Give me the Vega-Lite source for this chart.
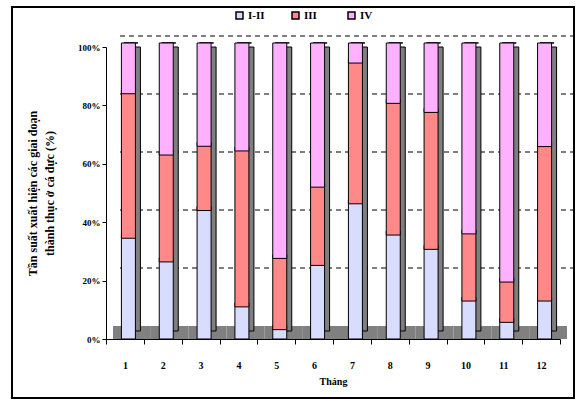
{
  "$schema": "https://vega.github.io/schema/vega-lite/v6.json",
  "width": 562,
  "height": 391,
  "autosize": "none",
  "padding": {"left": 12, "top": 7, "right": 3, "bottom": 4},
  "background": "white",
  "config": {
    "view": {"stroke": "black", "strokeWidth": 2},
    "font": "Liberation Serif",
    "axis": {"labelFont": "Liberation Serif", "titleFont": "Liberation Serif", "labelFontWeight": "bold", "titleFontWeight": "bold", "labelColor": "black", "titleColor": "black", "domainColor": "black", "tickColor": "black", "grid": false}
  },
  "datasets": {
    "main": [
      {"month": 1, "stage": "I-II", "value": 34.5}, {"month": 1, "stage": "III", "value": 49.5}, {"month": 1, "stage": "IV", "value": 16.0},
      {"month": 2, "stage": "I-II", "value": 26.4}, {"month": 2, "stage": "III", "value": 36.6}, {"month": 2, "stage": "IV", "value": 37.0},
      {"month": 3, "stage": "I-II", "value": 44.0}, {"month": 3, "stage": "III", "value": 22.0}, {"month": 3, "stage": "IV", "value": 34.0},
      {"month": 4, "stage": "I-II", "value": 11.0}, {"month": 4, "stage": "III", "value": 53.4}, {"month": 4, "stage": "IV", "value": 35.6},
      {"month": 5, "stage": "I-II", "value": 3.2}, {"month": 5, "stage": "III", "value": 24.4}, {"month": 5, "stage": "IV", "value": 72.4},
      {"month": 6, "stage": "I-II", "value": 25.2}, {"month": 6, "stage": "III", "value": 26.8}, {"month": 6, "stage": "IV", "value": 48.0},
      {"month": 7, "stage": "I-II", "value": 46.3}, {"month": 7, "stage": "III", "value": 48.2}, {"month": 7, "stage": "IV", "value": 5.5},
      {"month": 8, "stage": "I-II", "value": 35.6}, {"month": 8, "stage": "III", "value": 45.1}, {"month": 8, "stage": "IV", "value": 19.3},
      {"month": 9, "stage": "I-II", "value": 30.7}, {"month": 9, "stage": "III", "value": 46.9}, {"month": 9, "stage": "IV", "value": 22.4},
      {"month": 10, "stage": "I-II", "value": 13.0}, {"month": 10, "stage": "III", "value": 23.0}, {"month": 10, "stage": "IV", "value": 64.0},
      {"month": 11, "stage": "I-II", "value": 5.7}, {"month": 11, "stage": "III", "value": 13.8}, {"month": 11, "stage": "IV", "value": 80.5},
      {"month": 12, "stage": "I-II", "value": 13.0}, {"month": 12, "stage": "III", "value": 52.9}, {"month": 12, "stage": "IV", "value": 34.1}
    ],
    "grid": [{"g": 20}, {"g": 40}, {"g": 60}, {"g": 80}, {"g": 100}]
  },
  "layer": [
    {
      "data": {"name": "grid"},
      "mark": {"type": "rule", "color": "black", "strokeDash": [5, 4], "strokeWidth": 1.2},
      "encoding": {
        "y": {"field": "g", "type": "quantitative", "scale": {"domain": [0, 100], "range": [319, 29]}, "axis": null},
        "x": {"datum": 0, "type": "quantitative", "scale": {"domain": [0, 1], "range": [108, 562]}, "axis": null},
        "x2": {"datum": 1}
      }
    },
    {
      "data": {"name": "main"},
      "transform": [{"stack": "value", "groupby": ["month"], "sort": [{"field": "stage", "order": "ascending"}], "as": ["y0", "y1"]}],
      "layer": [
        {
          "transform": [{"filter": "datum.stage === 'I-II'"}],
          "mark": {"type": "bar", "fill": "#808080", "xOffset": 7},
          "encoding": {
            "x": {"field": "month", "type": "ordinal", "scale": {"range": [94, 548], "paddingInner": 0, "paddingOuter": 0},
              "axis": {"offset": -59, "tickBand": "extent", "tickSize": 5, "labelAngle": 0, "labelFontSize": 10, "labelPadding": 16, "title": "Tháng", "titleFontSize": 10, "titlePadding": 6}},
            "y": {"datum": 0, "type": "quantitative", "scale": {"domain": [0, 100], "range": [332, 40]},
              "axis": {"offset": -94, "values": [0, 20, 40, 60, 80, 100], "labelExpr": "datum.value + '%'", "labelFontSize": 9, "tickSize": 4, "labelPadding": 2,
                "title": ["Tần suất xuất hiện các giai đoạn", "thành thục ở cá đực (%)"], "titleFontSize": 12, "titleLineHeight": 17, "titlePadding": 21}},
            "y2": {"datum": 4.45},
            "width": {"band": 1}
          }
        },
        {
          "transform": [{"filter": "datum.stage === 'I-II'"}],
          "mark": {"type": "bar", "fill": "#7f7f7f", "stroke": "black", "strokeWidth": 1, "width": 14, "xOffset": 8.5, "yOffset": -8},
          "encoding": {
            "x": {"field": "month", "type": "ordinal"},
            "y": {"datum": 0, "type": "quantitative"},
            "y2": {"datum": 100}
          }
        },
        {
          "transform": [{"filter": "datum.stage === 'I-II'"}],
          "mark": {"type": "bar", "fill": "#00b000", "stroke": "black", "strokeWidth": 1, "width": 14, "xOffset": 6, "yOffset": -4},
          "encoding": {
            "x": {"field": "month", "type": "ordinal"},
            "y": {"datum": 100, "type": "quantitative"},
            "y2": {"datum": 101.4}
          }
        },
        {
          "mark": {"type": "bar", "stroke": "black", "strokeWidth": 1, "width": 14, "xOffset": 3.5, "yOffset": -4},
          "encoding": {
            "x": {"field": "month", "type": "ordinal"},
            "y": {"field": "y1", "type": "quantitative"},
            "y2": {"field": "y0"},
            "fill": {"field": "stage", "type": "nominal",
              "scale": {"domain": ["I-II", "III", "IV"], "range": ["#d8dcff", "#ff8888", "#ffb0ff"]},
              "legend": {"orient": "none", "legendX": 222, "legendY": 3, "direction": "horizontal", "title": null, "symbolType": "square", "symbolSize": 49, "symbolStrokeColor": "black", "symbolStrokeWidth": 1.5, "labelFont": "Liberation Serif", "labelFontWeight": "bold", "labelFontSize": 11, "labelColor": "black", "labelOffset": 3, "columnPadding": 24, "gridAlign": "all"}}
          }
        }
      ]
    }
  ],
  "resolve": {"scale": {"x": "independent", "y": "independent"}}
}
